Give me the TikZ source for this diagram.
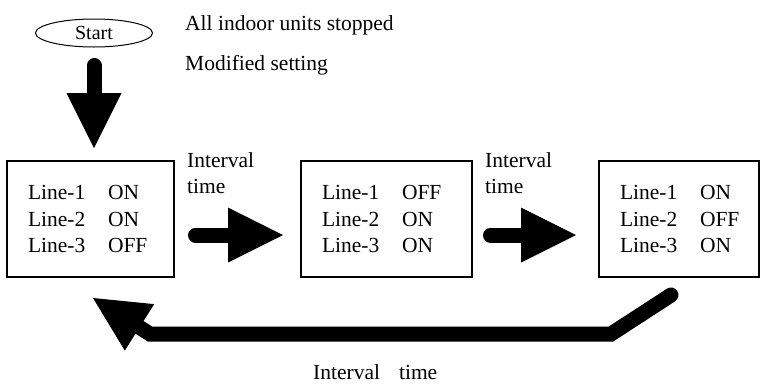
\documentclass[tikz,border=0pt]{standalone}
\usepackage{fontspec}
\setmainfont{Liberation Serif}
\usetikzlibrary{arrows.meta, positioning, shapes.geometric}
\newcommand{\linestate}[2]{\makebox[80pt][l]{#1}#2}

\begin{document}
\begin{tikzpicture}[
	x = 1pt, y = -1pt,
	node distance = 127pt,
	statebox/.style = {draw, rectangle, line width=1.5pt, outer sep=0pt, minimum height=116pt, inner xsep=21pt, inner ysep=0pt, align=left},
	startvertex/.style = {draw, ellipse, line width=1pt, outer sep=0pt, minimum width=117pt, minimum height=28pt, inner sep=0pt, font=\fontsize{20}{24}\selectfont},
	fatarrow/.style = {line width=15pt, line cap=round, -{Triangle[length=55pt, width=55pt, line width=0pt]}},
]
\tikzstyle{every node}=[font=\fontsize{21.5}{26.5}\selectfont]
\useasboundingbox (0,0) rectangle (760,383);

% Define vertices
\node[startvertex] (start) at (94,33) {Start};
\node[statebox, text width=125pt] (box1) at (90.5,219) {\linestate{Line-1}{ON}\\ \linestate{Line-2}{ON}\\ \linestate{Line-3}{OFF}};
\node[statebox, text width=129pt, right=of box1] (box2) {\linestate{Line-1}{OFF}\\ \linestate{Line-2}{ON}\\ \linestate{Line-3}{ON}};
\node[statebox, text width=118pt, right=of box2] (box3) {\linestate{Line-1}{ON}\\ \linestate{Line-2}{OFF}\\ \linestate{Line-3}{ON}};

% Texts
\node[anchor=base west, inner sep=0pt] (stopped) at (185,30) {All indoor units stopped};
\node[anchor=base west, inner sep=0pt] (modified) at (185,70) {Modified setting};
\node[anchor=north west, inner sep=0pt, align=left] (interval1) at (187,152) {Interval\\time};
\node[anchor=north west, inner sep=0pt, align=left] (interval2) at (485,152) {Interval\\time};
\node[anchor=base west, inner sep=0pt] (interval3) at (313,379) {Interval\hspace{19pt}time};

% Draw arrows
\path[fatarrow] (start.south) edge[shorten <=18.5pt, shorten >=13pt] (start.south |- box1.north);
\path[fatarrow] ([yshift=-16pt]box1.east) edge[shorten <=21.5pt, shorten >=18pt] ([yshift=-16pt]box2.west);
\path[fatarrow] ([yshift=-16pt]box2.east) edge[shorten <=18.5pt, shorten >=23pt] ([yshift=-16pt]box3.west);
\coordinate (backstart) at ([xshift=-8pt, yshift=-18pt]box3.south);
\coordinate (backbend) at (611,334);
\coordinate (backturn) at (150,334);
\coordinate (backtip) at (93,298);
\draw[fatarrow] (backstart) -- (backbend) -- (backturn) -- (backtip);
\end{tikzpicture}
\end{document}
